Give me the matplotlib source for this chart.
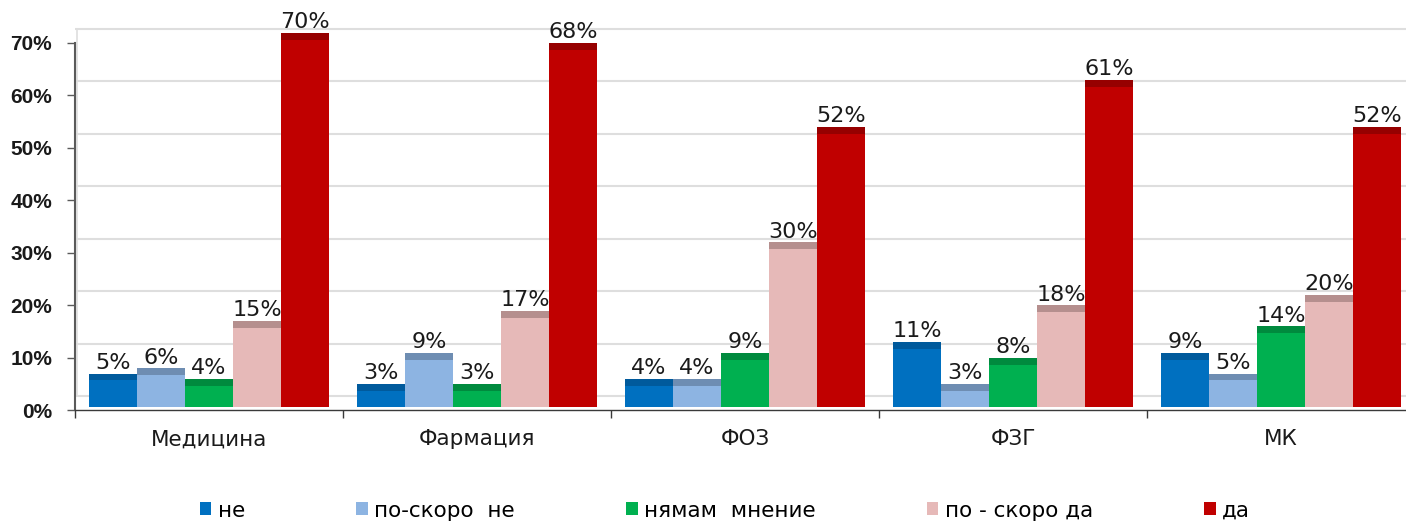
import matplotlib
matplotlib.use("Agg")
import matplotlib.pyplot as plt
import numpy as np

plt.rcParams['font.family'] = ['DejaVu Sans']

categories = ["Медицина", "Фармация", "ФОЗ", "ФЗГ", "МК"]
series_names = ["не", "по-скоро  не", "нямам  мнение", "по - скоро да", "да"]
values = {
    "не":            [5, 3, 4, 11, 9],
    "по-скоро  не":  [6, 9, 4, 3, 5],
    "нямам  мнение": [4, 3, 9, 8, 14],
    "по - скоро да": [15, 17, 30, 18, 20],
    "да":            [70, 68, 52, 61, 52],
}
face_colors = ["#0070C0", "#8DB4E2", "#00B050", "#E6B9B8", "#C00000"]
cap_colors = ["#005A9C", "#6E8DB2", "#008A3E", "#B58F8E", "#960000"]

W, H = 1406, 522
fig = plt.figure(figsize=(W / 100, H / 100), dpi=100)

px_per_pct = 367 / 70.0
y0_px = 410
ytop = 73
left_px = 75
ax_w_px = 5 * 268
ax = fig.add_axes([left_px / W, (H - y0_px) / H, ax_w_px / W, ytop * px_per_pct / H])
ax.set_xlim(-0.5, 4.5)
ax.set_ylim(0, ytop)

floor = 0.63
cap_h = 1.33
wall_shift = 2.67
bar_w = 0.179
n = len(series_names)
x = np.arange(len(categories))

# back wall gridlines
for g in range(0, 80, 10):
    ax.axhline(g + wall_shift, color="#DEDEDE", lw=1.5, zorder=0)
ax.plot([-0.494, -0.494], [wall_shift, 70 + wall_shift], color="#DEDEDE", lw=1.2, zorder=0)

handles = []
for i, name in enumerate(series_names):
    vals = np.array(values[name], dtype=float)
    xs = x + (i - (n - 1) / 2) * bar_w
    b = ax.bar(xs, vals, bar_w, bottom=floor, color=face_colors[i], zorder=2,
               label=name, linewidth=0)
    ax.bar(xs, np.full_like(vals, cap_h), bar_w, bottom=vals + floor,
           color=cap_colors[i], zorder=2, linewidth=0)
    handles.append(b)
    for xi, v in zip(xs, vals):
        ax.annotate(f"{int(v)}%", (xi, v + floor + cap_h), xytext=(0, 3.4),
                    textcoords="offset points", ha="center", va="baseline",
                    fontsize=16, color="#1a1a1a", zorder=3, annotation_clip=False)

for s in ["top", "right"]:
    ax.spines[s].set_visible(False)
ax.spines["left"].set_bounds(0, 70)
ax.spines["left"].set_color("#5a5a5a")
ax.spines["left"].set_linewidth(1.5)
ax.spines["bottom"].set_color("#3a3a3a")
ax.spines["bottom"].set_linewidth(1.0)

ax.set_yticks(range(0, 80, 10))
ax.set_yticklabels([f"{t}%" for t in range(0, 80, 10)], fontsize=15, fontweight="bold",
                   color="#1a1a1a", family=["Liberation Sans", "DejaVu Sans"])
ax.tick_params(axis="y", length=5.5, width=1.0, color="#5a5a5a", pad=11)

ax.set_xticks(x)
ax.set_xticklabels(categories, fontsize=15.5, color="#1a1a1a")
ax.tick_params(axis="x", which="major", length=0, pad=14)
ax.set_xticks(np.arange(-0.5, 5, 1), minor=True)
ax.tick_params(axis="x", which="minor", length=5.5, width=1.0, color="#3a3a3a")

leg = fig.legend(handles=handles, labels=series_names, loc="center",
                 bbox_to_anchor=(0.5156, 0.022), ncol=5, frameon=False,
                 fontsize=15.5, handlelength=0.55, handleheight=0.55,
                 handletextpad=0.3, columnspacing=5.15)

fig.savefig("out.png", dpi=100)
